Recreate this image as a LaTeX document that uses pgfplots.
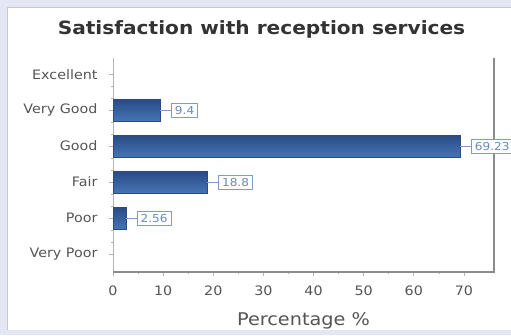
\documentclass[border=0pt]{standalone}
\usepackage{pgfplots}
\pgfplotsset{compat=1.18}
\usepackage{fontspec}
\setmainfont{DejaVu Sans}[FakeStretch=1.1]
\definecolor{bgout}{HTML}{E4E7F3}
\definecolor{panelb}{HTML}{C4C8D8}
\definecolor{titlec}{HTML}{333333}
\definecolor{tickc}{HTML}{555555}
\definecolor{lblborder}{HTML}{7F9CC8}
\definecolor{lbltext}{HTML}{6A8AB8}
\definecolor{bartop}{HTML}{294B86}
\definecolor{barbot}{HTML}{4674B6}
\definecolor{barborder}{HTML}{2B4A80}
\definecolor{axisc}{HTML}{8C8C8C}
\definecolor{axisl}{HTML}{B4B4B4}
\begin{document}
\begin{tikzpicture}[x=1pt,y=1pt]
\useasboundingbox (0,0) rectangle (511,-335);
\fill[bgout] (0,0) rectangle (511,-335);
\fill[white] (7,-7) rectangle (511,-330);
\draw[panelb, line width=0.8pt] (7,-330) -- (7,-7) -- (511,-7);
\node[font=\fontsize{18.3}{22}\selectfont\bfseries, text=titlec] at (261.5,-29) {Satisfaction with reception services};
\begin{axis}[
  at={(113pt,-272pt)}, anchor=south west,
  scale only axis, width=381pt, height=214pt,
  xbar, bar width=22pt, bar shift=0pt,
  xmin=0, xmax=76, ymin=-0.5, ymax=5.45,
  xtick={0,10,...,70}, ytick={0,...,5},
  yticklabels={Very Poor,Poor,Fair,Good,Very Good,Excellent},
  minor x tick num=1, minor y tick num=2,
  axis line style={draw=none},
  tick align=outside, xtick pos=lower, ytick pos=left,
  major tick length=4pt, minor tick length=2pt,
  tick style={draw=axisl, line width=0.6pt},
  /pgf/number format/assume math mode=true,
  ticklabel style={font=\fontsize{13}{15}\selectfont, text=tickc},
  yticklabel style={xshift=-8pt},
  xticklabel style={yshift=-6pt},
  xlabel={Percentage \%},
  xlabel style={at={(axis description cs:0.5,0)}, anchor=base, yshift=-53pt, font=\fontsize{17.5}{20}\selectfont, text=tickc},
  point meta=x,
  nodes near coords,
  every node near coord/.style={anchor=west, xshift=11pt, draw=lblborder, fill=white, text=lbltext,
     font=\fontsize{11}{13}\selectfont, inner xsep=3.5pt, inner ysep=3pt, line width=0.7pt,
     append after command={(\tikzlastnode.west) edge[draw=lblborder, line width=0.8pt] ([xshift=-11pt]\tikzlastnode.west)}},
  mybar/.style={draw=barborder, line width=0.6pt, top color=bartop, bottom color=barbot, bar shift=0pt},
  clip=false,
]
\draw[axisl, line width=1pt] (rel axis cs:0,0) -- (rel axis cs:0,1);
\draw[axisc, line width=1.2pt] (rel axis cs:0,0) -- (rel axis cs:1,0) -- (rel axis cs:1,1);
\addplot[mybar] coordinates {(2.56,1)};
\addplot[mybar] coordinates {(18.8,2)};
\addplot[mybar] coordinates {(69.23,3)};
\addplot[mybar] coordinates {(9.4,4)};
\end{axis}
\end{tikzpicture}
\end{document}
